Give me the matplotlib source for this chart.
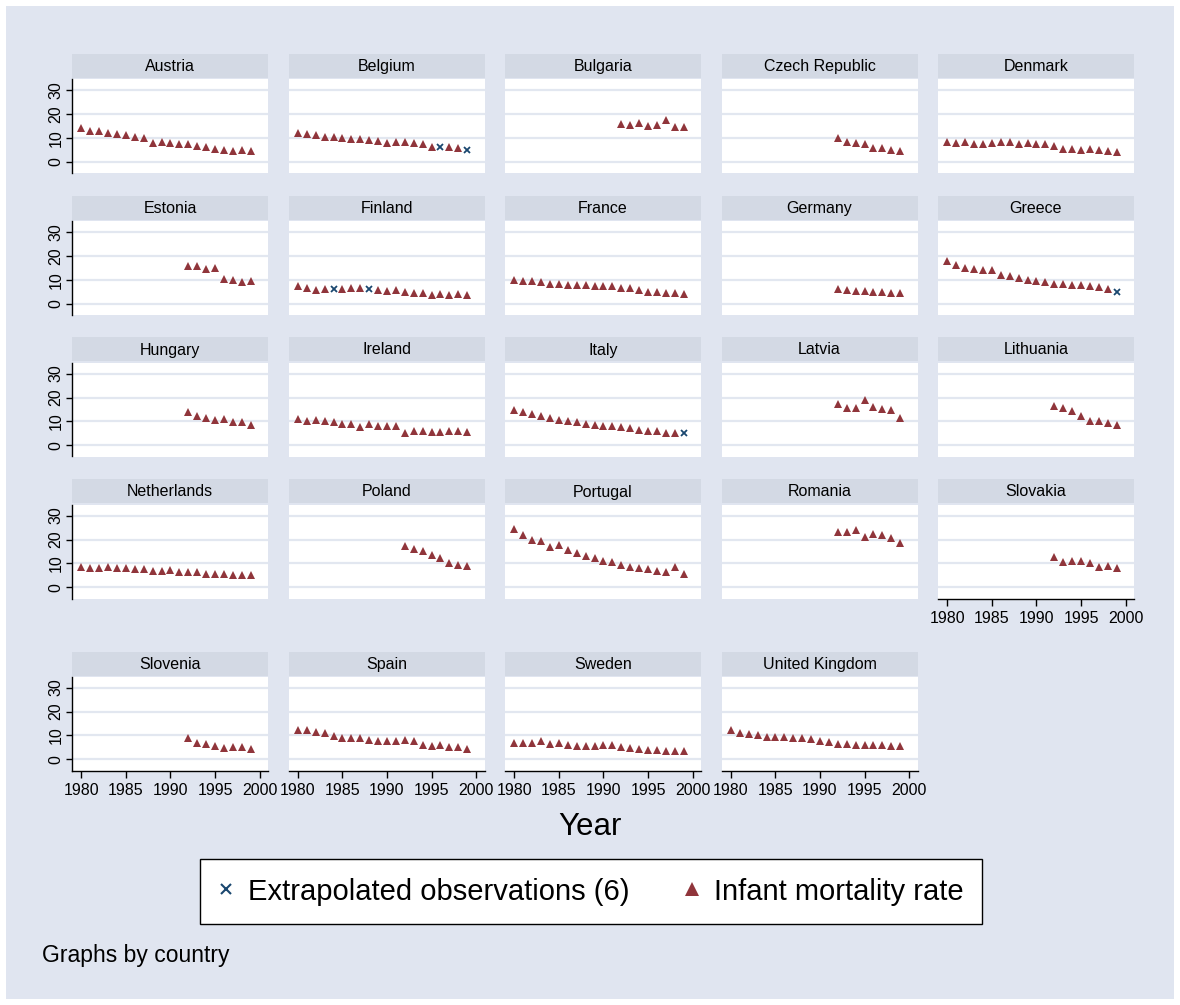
import numpy as np
import matplotlib
matplotlib.use("Agg")
import matplotlib.pyplot as plt
from matplotlib.patches import Rectangle
from matplotlib.lines import Line2D

plt.rcParams['font.family'] = ['Liberation Sans', 'DejaVu Sans']

years = list(range(1980, 2000))
x_ticks = [1980, 1985, 1990, 1995, 2000]
y_ticks = [0, 10, 20, 30]
N = None

countries = ["Austria", "Belgium", "Bulgaria", "Czech Republic", "Denmark",
             "Estonia", "Finland", "France", "Germany", "Greece",
             "Hungary", "Ireland", "Italy", "Latvia", "Lithuania",
             "Netherlands", "Poland", "Portugal", "Romania", "Slovakia",
             "Slovenia", "Spain", "Sweden", "United Kingdom"]

# Infant mortality rate, 1980-1999 (None = missing)
austria = [14.3, 12.8, 12.8, 11.9, 11.5, 11.2, 10.3, 9.8, 8.1, 8.3, 7.8, 7.5, 7.5, 6.5, 6.3, 5.4, 5.1, 4.7, 4.9, 4.4]
belgium = [12.1, 11.7, 11.3, 10.5, 10.5, 9.8, 9.6, 9.7, 9.0, 8.6, 7.9, 8.4, 8.2, 8.0, 7.6, 6.2, N, 6.4, 5.8, N]
bulgaria = [N]*12 + [15.9, 15.5, 16.3, 14.8, 15.6, 17.5, 14.4, 14.6]
czech = [N]*12 + [9.9, 8.5, 7.9, 7.7, 6.0, 5.9, 5.2, 4.6]
denmark = [8.4, 7.9, 8.2, 7.7, 7.7, 7.9, 8.2, 8.3, 7.6, 8.0, 7.5, 7.3, 6.6, 5.4, 5.6, 5.1, 5.6, 5.2, 4.7, 4.2]
estonia = [N]*12 + [15.8, 15.8, 14.5, 14.9, 10.4, 10.1, 9.3, 9.5]
finland = [7.6, 6.5, 6.0, 6.2, N, 6.3, 6.5, 6.5, N, 6.0, 5.6, 5.8, 5.2, 4.4, 4.7, 3.9, 4.0, 3.9, 4.2, 3.6]
france = [10.0, 9.7, 9.5, 9.1, 8.3, 8.3, 8.0, 7.8, 7.8, 7.5, 7.3, 7.3, 6.8, 6.5, 5.9, 5.0, 4.9, 4.7, 4.6, 4.3]
germany = [N]*12 + [6.2, 5.8, 5.6, 5.3, 5.0, 4.9, 4.7, 4.5]
greece = [17.9, 16.3, 15.1, 14.6, 14.3, 14.1, 12.2, 11.7, 11.0, 9.8, 9.7, 9.0, 8.4, 8.5, 7.9, 8.1, 7.3, 7.0, 6.3, N]
hungary = [N]*12 + [14.1, 12.5, 11.5, 10.7, 10.9, 9.9, 9.7, 8.4]
ireland = [11.1, 10.3, 10.5, 10.1, 9.6, 8.8, 8.9, 7.9, 8.9, 8.2, 8.2, 8.2, 5.0, 6.0, 5.9, 5.6, 5.6, 6.2, 6.2, 5.5]
italy = [14.6, 14.1, 13.0, 12.3, 11.3, 10.5, 10.1, 9.7, 9.0, 8.5, 8.2, 8.1, 7.7, 7.2, 6.5, 6.2, 5.9, 5.3, 5.3, N]
latvia = [N]*12 + [17.4, 15.8, 15.5, 18.8, 15.9, 15.2, 15.0, 11.3]
lithuania = [N]*12 + [16.5, 15.6, 14.2, 12.5, 10.0, 10.3, 9.3, 8.6]
netherlands = [8.6, 8.3, 8.3, 8.4, 8.3, 8.0, 7.8, 7.6, 6.8, 6.8, 7.1, 6.5, 6.3, 6.3, 5.6, 5.5, 5.7, 5.0, 5.2, 5.2]
poland = [N]*12 + [17.3, 16.2, 15.1, 13.6, 12.2, 10.2, 9.5, 8.9]
portugal = [24.3, 21.8, 19.8, 19.5, 16.7, 17.8, 15.8, 14.2, 13.1, 12.1, 11.0, 10.8, 9.3, 8.7, 8.1, 7.5, 6.9, 6.4, 8.4, 5.6]
romania = [N]*12 + [23.3, 23.3, 23.9, 21.2, 22.3, 22.0, 20.5, 18.6]
slovakia = [N]*12 + [12.6, 10.6, 11.2, 11.0, 10.2, 8.7, 8.8, 8.3]
slovenia = [N]*12 + [8.9, 6.8, 6.5, 5.5, 4.7, 5.2, 5.2, 4.5]
spain = [12.3, 12.5, 11.3, 10.9, 9.7, 8.9, 8.9, 8.9, 8.1, 7.8, 7.6, 7.8, 8.0, 7.6, 6.0, 5.5, 5.9, 5.3, 5.0, 4.5]
sweden = [6.9, 6.9, 6.8, 7.7, 6.4, 6.8, 5.9, 5.7, 5.8, 5.8, 6.0, 6.1, 5.3, 4.8, 4.4, 4.1, 4.0, 3.6, 3.5, 3.4]
uk = [12.1, 11.1, 10.8, 10.1, 9.5, 9.4, 9.5, 9.1, 9.0, 8.4, 7.9, 7.4, 6.6, 6.3, 6.2, 6.2, 6.1, 5.9, 5.7, 5.8]

rates = [austria, belgium, bulgaria, czech, denmark, estonia, finland, france,
         germany, greece, hungary, ireland, italy, latvia, lithuania,
         netherlands, poland, portugal, romania, slovakia, slovenia, spain,
         sweden, uk]

# Extrapolated observations (country, year, value)
extrap_country = ["Belgium", "Belgium", "Finland", "Finland", "Greece", "Italy"]
extrap_year = [1996, 1999, 1984, 1988, 1999, 1999]
extrap_value = [6.1, 5.0, 6.2, 6.1, 5.0, 5.1]

NAVY = '#1A476F'
MAROON = '#90353B'
BG = '#E0E5F0'
STRIP = '#D3D9E4'
GRID = '#E2E7F0'

W, H = 1180, 1005
fig = plt.figure(figsize=(W / 100, H / 100), dpi=100)
fig.patch.set_facecolor('white')
fig.patches.append(Rectangle((6 / W, 1 - 999 / H), 1168 / W, 993 / H,
                             transform=fig.transFigure, facecolor=BG,
                             edgecolor='none', zorder=-10))

col_left = [72, 288.5, 505, 721.5, 938]
row_top = [54, 196, 337.5, 479.5, 651.5]
pw = 196
strip_h = 24
plot_off = 25.5
plot_h = 93.5

for i, (name, vals) in enumerate(zip(countries, rates)):
    r, c = divmod(i, 5)
    left = col_left[c]
    top = row_top[r]
    # strip
    fig.patches.append(Rectangle((left / W, 1 - (top + strip_h) / H), pw / W, strip_h / H,
                                 transform=fig.transFigure, facecolor=STRIP,
                                 edgecolor='none'))
    fig.text((left + pw / 2) / W, 1 - (top + strip_h / 2 + 0.5) / H, name,
             ha='center', va='center', fontsize=11.5)
    ptop = top + plot_off
    ax = fig.add_axes([left / W, 1 - (ptop + plot_h) / H, pw / W, plot_h / H])
    ax.set_facecolor('white')
    ax.set_xlim(1978.94, 2000.95)
    ax.set_ylim(-4.6, 34.4)
    ax.set_yticks(y_ticks)
    ax.grid(axis='y', color=GRID, lw=1.6)
    ax.set_axisbelow(True)
    for s in ax.spines.values():
        s.set_visible(False)
    v = np.array(vals, dtype=float)
    ax.plot(years, v, linestyle='none', marker='^', markersize=6.2,
            color=MAROON, markeredgewidth=0)
    ex = [(y, val) for cc, y, val in zip(extrap_country, extrap_year, extrap_value) if cc == name]
    if ex:
        ax.plot([e[0] for e in ex], [e[1] for e in ex], linestyle='none',
                marker='x', markersize=4.8, color=NAVY, markeredgewidth=1.3)
    if c == 0:
        ax.spines['left'].set_visible(True)
        ax.spines['left'].set_color('black')
        ax.spines['left'].set_linewidth(1.0)
        ax.tick_params(axis='y', length=4, width=1, color='black', pad=2,
                       labelsize=11.5, labelrotation=90)
        for t in ax.get_yticklabels():
            t.set_va('center')
    else:
        ax.tick_params(axis='y', length=0, labelleft=False)
    bottom_panel = (r == 4) or (r == 3 and c == 4)
    if bottom_panel:
        ax.spines['bottom'].set_visible(True)
        ax.spines['bottom'].set_color('black')
        ax.spines['bottom'].set_linewidth(1.0)
        ax.set_xticks(x_ticks)
        ax.tick_params(axis='x', length=5, width=1, color='black', pad=4,
                       labelsize=11.5)
    else:
        ax.set_xticks([])

fig.text(590 / W, 1 - 827 / H, "Year", ha='center', va='center', fontsize=22.5)

h1 = Line2D([], [], linestyle='none', marker='x', color=NAVY, markersize=6.5,
            markeredgewidth=1.5)
h2 = Line2D([], [], linestyle='none', marker='^', color=MAROON, markersize=9.5,
            markeredgewidth=0)
leg = fig.legend([h1, h2], ["Extrapolated observations (6)", "Infant mortality rate"],
                 loc='center', bbox_to_anchor=(591 / W, 1 - 891.5 / H), ncol=2,
                 frameon=True, fancybox=False, fontsize=21, handlelength=0.5,
                 handletextpad=0.5, columnspacing=1.9, borderpad=0.65,
                 borderaxespad=0, framealpha=1)
leg.get_frame().set_edgecolor('black')
leg.get_frame().set_linewidth(1.0)
leg.get_frame().set_facecolor('white')

fig.text(42 / W, 1 - 955 / H, "Graphs by country", ha='left', va='center', fontsize=16.5)

fig.savefig("out.png", dpi=100, facecolor=fig.get_facecolor())
